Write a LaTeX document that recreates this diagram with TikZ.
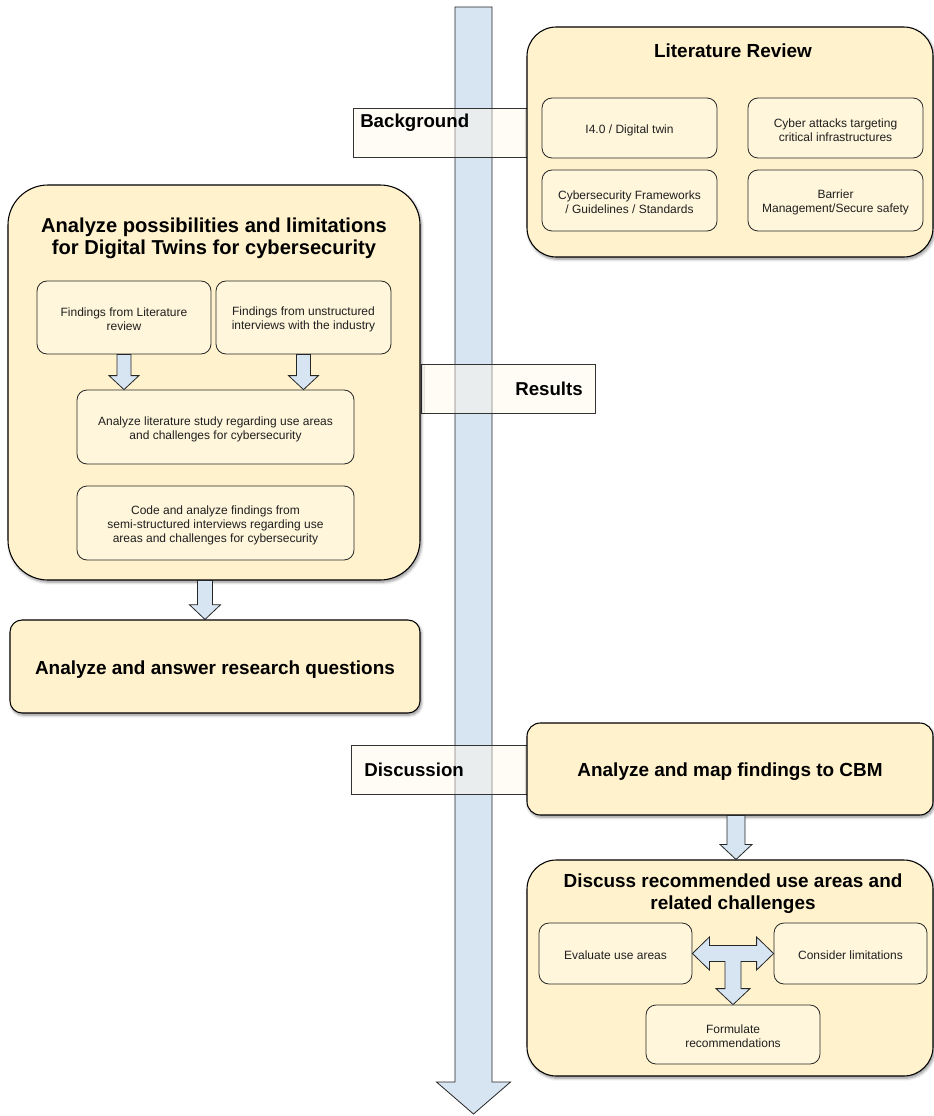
\documentclass[tikz,border=0pt]{standalone}
\usepackage{fontspec}
\setmainfont{Liberation Sans}
\usetikzlibrary{fit,calc,shadows.blur}

\definecolor{boxfill}{HTML}{FFF2CC}
\definecolor{innerfill}{HTML}{FFF6DB}
\definecolor{arrowfill}{HTML}{D7E4F2}
\definecolor{tagfill}{HTML}{FFF8E8}

\tikzset{
  outerbox/.style={draw=black, line width=0.8pt, fill=boxfill, inner sep=0pt,
    blur shadow={shadow xshift=1pt, shadow yshift=-1.6pt, shadow blur steps=6, shadow opacity=45}},
  innerbox/.style={draw=black!85, line width=0.6pt, fill=innerfill, rounded corners=7.5pt, inner sep=0pt},
  boxtext/.style={label={[align=center, inner sep=0pt, yshift=-1.5pt, font=\fontsize{9}{10.5}\selectfont, text=black!88]center:#1}},
  bigtext/.style={label={[align=center, inner sep=0pt, yshift=-2pt, font=\bfseries\fontsize{14.2}{16.3}\selectfont]center:#1}},
  titletext/.style={font=\bfseries\fontsize{14.2}{16.3}\selectfont, align=center, inner sep=0pt},
  tagbox/.style={draw=black!80, line width=0.6pt, fill=tagfill, fill opacity=0.45, inner sep=0pt},
  tagtext/.style={font=\bfseries\fontsize{14}{16.3}\selectfont, inner sep=0pt},
  blockarrow/.style={draw=black!85, line width=0.6pt, fill=arrowfill, line join=miter},
}

% block arrow pointing down: start, tip, shaft half width, head half width, head length
\newcommand\blockdown[5]{%
  \draw[blockarrow] let \p1=(#1), \p2=(#2) in
    (\x1-#3,\y1) -- (\x1-#3,\y2+#5) -- (\x1-#4,\y2+#5) -- (\x1,\y2)
    -- (\x1+#4,\y2+#5) -- (\x1+#3,\y2+#5) -- (\x1+#3,\y1) -- cycle;}

\begin{document}
\begin{tikzpicture}[x=0.75pt,y=-0.75pt]
\useasboundingbox (0,0) rectangle (934,1116);

% time axis
\coordinate (axtop) at (473.5,7);
\coordinate (axtip) at (473.5,1114);
\blockdown{axtop}{axtip}{13.9pt}{27.75pt}{24pt}

% phase tags on the axis
\node[tagbox, fit={(353,108) (527,157)}] (bg) {};
\node[tagtext, anchor=west] (bgt) at (360,123) {Background};
\node[tagbox, fit={(421,364) (595,413)}] (rs) {};
\node[tagtext, anchor=east] (rst) at (583,389) {Results};
\node[tagbox, fit={(351,745) (527,794)}] (ds) {};
\node[tagtext, anchor=west] (dst) at (364,770) {Discussion};

% literature review
\node[outerbox, rounded corners=22pt, fit={(527,27) (933,257)}] (lit) {};
\node[titletext] (litt) at (733,51) {Literature Review};
\node[innerbox, fit={(542,98) (717,158)}, boxtext={I4.0 / Digital twin}] (i40) {};
\node[innerbox, fit={(748,98) (923,158)}, boxtext={Cyber attacks targeting\\critical infrastructures}] (cyb) {};
\node[innerbox, fit={(542,170) (717,231)}, boxtext={Cybersecurity Frameworks\\/ Guidelines / Standards}] (fw) {};
\node[innerbox, fit={(748,170) (923,231)}, boxtext={Barrier\\Management/Secure safety}] (bar) {};

% analysis of possibilities and limitations
\node[outerbox, rounded corners=30pt, fit={(8,185) (420,580)}] (anl) {};
\node[titletext, font=\bfseries\fontsize{15.1}{16.5}\selectfont] (anlt) at (214,238) {Analyze possibilities and limitations\\for Digital Twins for cybersecurity};
\node[innerbox, fit={(37,281) (211,354)}, boxtext={Findings from Literature\\review}] (f1) {};
\node[innerbox, fit={(216,281) (391,354)}, boxtext={Findings from unstructured\\interviews with the industry}] (f2) {};
\node[innerbox, fit={(77,390) (354,464)}, boxtext={Analyze literature study regarding use areas\\and challenges for cybersecurity}] (als) {};
\node[innerbox, fit={(77,486) (354,560)}, boxtext={Code and analyze findings from\\semi-structured interviews regarding use\\areas and challenges for cybersecurity}] (code) {};
\blockdown{f1.south}{f1.south |- als.north}{5.25pt}{11.25pt}{10.5pt}
\blockdown{f2.south}{f2.south |- als.north}{5.25pt}{11.25pt}{10.5pt}

% research questions
\node[outerbox, rounded corners=9pt, fit={(10,620) (420,713)}, bigtext={Analyze and answer research questions}] (res) {};
\blockdown{$(anl.south)+(-9,0)$}{$(res.north)+(-9,0)$}{5.6pt}{11.6pt}{11pt}

% mapping to CBM
\node[outerbox, rounded corners=10pt, fit={(527,723) (933,815)}, bigtext={Analyze and map findings to CBM}] (cbm) {};

% discussion of use areas
\node[outerbox, rounded corners=22pt, fit={(527,860) (933,1076)}] (dsc) {};
\node[titletext] (dsct) at (733,894) {Discuss recommended use areas and\\related challenges};
\node[innerbox, fit={(539,923) (692,984)}, boxtext={Evaluate use areas}] (ev) {};
\node[innerbox, fit={(774,923) (927,984)}, boxtext={Consider limitations}] (cl) {};
\node[innerbox, fit={(646,1005) (820,1064)}, boxtext={Formulate\\recommendations}] (fr) {};
\blockdown{$(cbm.south)+(6,0)$}{$(dsc.north)+(6,0)$}{6.75pt}{12pt}{11.25pt}

% three-way arrow between the discussion steps
\draw[blockarrow] let \p1=(ev.east), \p2=(cl.west), \p3=(fr.north) in
  (\x1,\y1) -- (\x1+12.75pt,\y1+12.4pt) -- (\x1+12.75pt,\y1+6pt)
  -- (\x2-12.75pt,\y1+6pt) -- (\x2-12.75pt,\y2+12.4pt) -- (\x2,\y2)
  -- (\x2-12.75pt,\y2-12.4pt) -- (\x2-12.75pt,\y2-6pt)
  -- (\x3+6pt,\y2-6pt) -- (\x3+6pt,\y3+12pt) -- (\x3+12.75pt,\y3+12pt)
  -- (\x3,\y3) -- (\x3-12.75pt,\y3+12pt) -- (\x3-6pt,\y3+12pt)
  -- (\x3-6pt,\y1-6pt) -- (\x1+12.75pt,\y1-6pt) -- (\x1+12.75pt,\y1-12.4pt) -- cycle;
\end{tikzpicture}
\end{document}
